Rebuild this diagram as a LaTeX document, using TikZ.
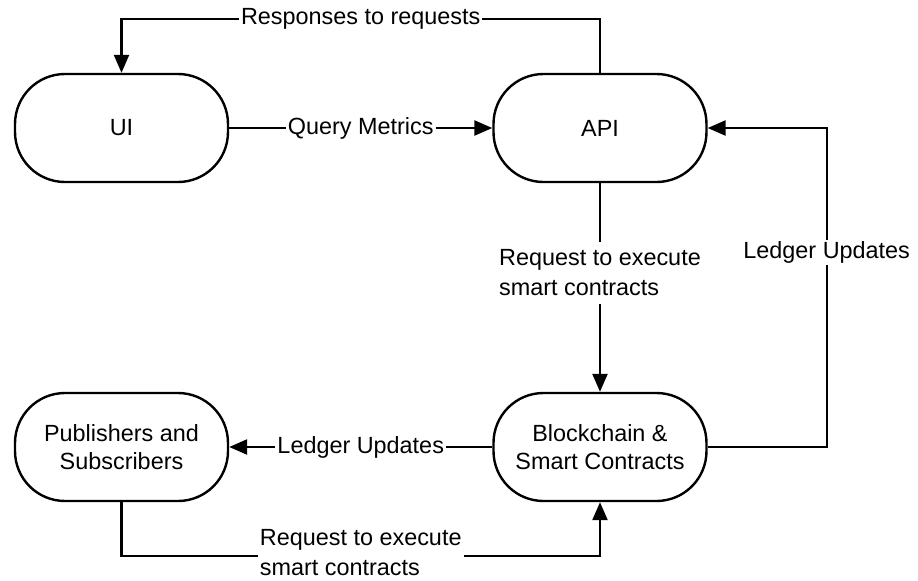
\documentclass[tikz,border=0pt]{standalone}
\usepackage{fontspec}
\setmainfont{Liberation Sans}
\usepackage{tikz}
\usetikzlibrary{positioning}
\usetikzlibrary{arrows.meta}
\tikzset{
    proc/.style={draw, line width=1.2pt, rounded corners=25pt, minimum width=106.5pt, minimum height=54pt, align=center, font=\fontsize{11.7}{14}\selectfont},
    flow/.style={line width=1.2pt, -{Triangle[length=9pt,width=7.5pt]}},
    lbl/.style={fill=white, inner sep=1pt, align=center, font=\fontsize{11.7}{15}\selectfont}
}

\begin{document}
\begin{tikzpicture}[x=0.5pt, y=-0.5pt]
            \useasboundingbox (0,0) rectangle (918,580);

            % Boxes
            \node[proc] (ui) at (121.5,128) {UI};
            \node[proc] (api) at (600,128) {API};
            \node[proc] (pubsub) at (121.5,447) {Publishers and\\Subscribers};
            \node[proc] (chain) at (600,447) {Blockchain \&\\Smart Contracts};

            % Top row
            \draw[flow] (api.north) -- ++(0,-54) -| node[pos=0.25, lbl] {Responses to requests} (ui.north);
            \draw[flow] (ui.east) -- node[lbl] {Query Metrics} (api.west);

            % API to blockchain and back
            \draw[flow] (api.south) -- node[pos=0.43, lbl, align=left, inner ysep=4pt] {Request to execute\\smart contracts} (chain.north);
            \draw[flow] (chain.east) -- ++(119,0) |- node[pos=0.305, lbl] {Ledger Updates} (api.east);

            % Bottom row
            \draw[flow] (chain.west) -- node[lbl] {Ledger Updates} (pubsub.east);
            \draw[flow] (pubsub.south) -- ++(0,54) -| node[pos=0.25, lbl, align=left, yshift=2pt] {Request to execute\\smart contracts} (chain.south);
        \end{tikzpicture}
\end{document}
